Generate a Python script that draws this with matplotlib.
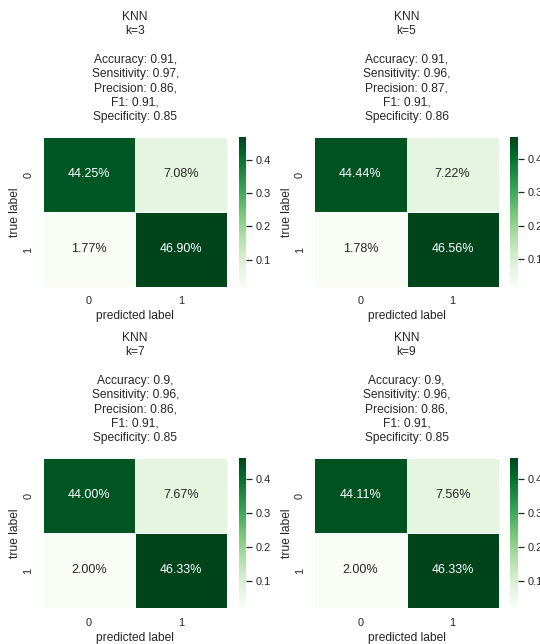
import numpy as np
import matplotlib
matplotlib.use("Agg")
import matplotlib.pyplot as plt
import seaborn as sns

# confusion matrices (as fraction of all samples) for each k
k_values = [3, 5, 7, 9]
cm_k3 = [[0.4425, 0.0708], [0.0177, 0.4690]]
cm_k5 = [[0.4444, 0.0722], [0.0178, 0.4656]]
cm_k7 = [[0.4400, 0.0767], [0.0200, 0.4633]]
cm_k9 = [[0.4411, 0.0756], [0.0200, 0.4633]]
matrices = [cm_k3, cm_k5, cm_k7, cm_k9]

accuracy = [0.91, 0.91, 0.9, 0.9]
sensitivity = [0.97, 0.96, 0.96, 0.96]
precision = [0.86, 0.87, 0.86, 0.86]
f1 = [0.91, 0.91, 0.91, 0.91]
specificity = [0.85, 0.86, 0.85, 0.85]

sns.set_theme(style="white")
plt.rcParams["font.family"] = ["Liberation Sans", "DejaVu Sans"]

fig, axes = plt.subplots(2, 2, figsize=(7.5, 644 / 72), dpi=72)
plt.subplots_adjust(left=0.0796, right=1.009, top=0.7873, bottom=0.0559,
                    wspace=0.177, hspace=1.14)

for i, ax in enumerate(axes.flat):
    sns.heatmap(np.array(matrices[i]), annot=True, fmt=".2%", cmap="Greens",
                linewidths=1, ax=ax, annot_kws={"fontsize": 12.5})
    ax.set_xlabel("predicted label")
    ax.set_ylabel("true label", labelpad=2)
    ax.set_title("KNN\nk={}\n\nAccuracy: {},\nSensitivity: {},\nPrecision: {},\nF1: {},\nSpecificity: {}".format(
        k_values[i], accuracy[i], sensitivity[i], precision[i], f1[i], specificity[i]),
        pad=17, linespacing=1.25)

plt.savefig("out.png", dpi=72)
